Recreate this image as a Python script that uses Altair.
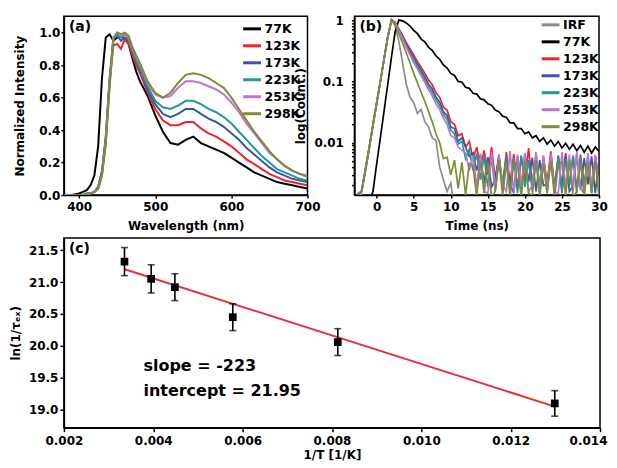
import altair as alt
import pandas as pd

FONT = "DejaVu Sans"

# ---------------- panel (a): emission spectra ----------------
wavelength = [380, 390, 400, 405, 410, 415, 420, 425, 430, 435, 440, 445, 450, 455, 460, 465, 470, 475,
              480, 490, 500, 510, 520, 530, 540, 550, 560, 570, 580, 590, 600, 610, 620, 630, 640, 650,
              660, 670, 680, 690, 700]
spec_77K = [0.00, 0.00, 0.01, 0.02, 0.03, 0.06, 0.12, 0.30, 0.72, 0.97, 0.99, 0.95, 0.97, 0.98, 0.96, 0.93,
            0.84, 0.76, 0.70, 0.61, 0.49, 0.39, 0.32, 0.31, 0.34, 0.36, 0.32, 0.30, 0.28, 0.26, 0.23, 0.20,
            0.17, 0.14, 0.12, 0.10, 0.08, 0.07, 0.06, 0.05, 0.04]
spec_123K = [0.00, 0.00, 0.00, 0.00, 0.01, 0.01, 0.02, 0.05, 0.15, 0.36, 0.70, 0.92, 0.93, 0.90, 0.96, 0.93,
             0.86, 0.80, 0.75, 0.63, 0.53, 0.46, 0.43, 0.43, 0.45, 0.45, 0.41, 0.38, 0.36, 0.33, 0.30, 0.26,
             0.22, 0.19, 0.16, 0.13, 0.11, 0.09, 0.08, 0.07, 0.06]
spec_173K = [0.00, 0.00, 0.00, 0.00, 0.01, 0.01, 0.02, 0.05, 0.14, 0.35, 0.72, 0.96, 0.98, 0.95, 0.97, 0.95,
             0.88, 0.82, 0.77, 0.65, 0.56, 0.50, 0.48, 0.50, 0.53, 0.53, 0.50, 0.47, 0.45, 0.42, 0.38, 0.34,
             0.29, 0.25, 0.21, 0.17, 0.14, 0.12, 0.10, 0.09, 0.08]
spec_223K = [0.00, 0.00, 0.00, 0.00, 0.01, 0.01, 0.02, 0.04, 0.13, 0.34, 0.70, 0.97, 0.99, 0.97, 0.99, 0.96,
             0.89, 0.83, 0.78, 0.67, 0.58, 0.54, 0.53, 0.55, 0.58, 0.58, 0.56, 0.53, 0.51, 0.48, 0.44, 0.39,
             0.34, 0.29, 0.24, 0.20, 0.16, 0.14, 0.12, 0.10, 0.09]
spec_253K = [0.00, 0.00, 0.00, 0.00, 0.00, 0.01, 0.02, 0.04, 0.12, 0.32, 0.68, 0.97, 1.00, 0.98, 0.99, 0.97,
             0.90, 0.85, 0.80, 0.69, 0.62, 0.60, 0.61, 0.66, 0.70, 0.70, 0.69, 0.67, 0.65, 0.62, 0.57, 0.51,
             0.44, 0.38, 0.32, 0.26, 0.22, 0.18, 0.15, 0.13, 0.12]
spec_298K = [0.00, 0.00, 0.00, 0.00, 0.00, 0.01, 0.02, 0.04, 0.12, 0.31, 0.66, 0.96, 1.00, 0.99, 1.00, 0.98,
             0.91, 0.86, 0.81, 0.70, 0.63, 0.60, 0.63, 0.69, 0.74, 0.75, 0.74, 0.72, 0.69, 0.66, 0.60, 0.53,
             0.46, 0.39, 0.33, 0.27, 0.22, 0.18, 0.15, 0.13, 0.11]
series_a = ["77K", "123K", "173K", "223K", "253K", "298K"]
colors_a = ["#000000", "#f02424", "#3a55a8", "#1f9a9a", "#c072d0", "#7d8c35"]

# ---------------- panel (b): decay curves ----------------
time_ns = [-3.0, -2.5, -2.0, -1.5, -1.0, -0.5, 0.0, 0.5, 1.0, 1.5, 2.0, 2.5, 3.0, 3.5, 4.0, 4.5, 5.0, 5.5,
           6.0, 6.5, 7.0, 7.5, 8.0, 8.5, 9.0, 9.5, 10.0, 10.5, 11.0, 11.5, 12.0, 12.5, 13.0, 13.5, 14.0,
           14.5, 15.0, 15.5, 16.0, 16.5, 17.0, 17.5, 18.0, 18.5, 19.0, 19.5, 20.0, 20.5, 21.0, 21.5, 22.0,
           22.5, 23.0, 23.5, 24.0, 24.5, 25.0, 25.5, 26.0, 26.5, 27.0, 27.5, 28.0, 28.5, 29.0, 29.5, 30.0]
decay_IRF = [0.0005, 0.0009, 0.0018, 0.0035, 0.008, 0.02, 0.045, 0.1, 0.24, 0.55, 1.0,
             0.8, 0.45, 0.2, 0.09, 0.055, 0.045, 0.03, 0.035, 0.022, 0.018, 0.012, 0.011, 0.004, 0.0025,
             0.0016, 0.0022, 0.0008]
decay_77K = [0.0003, 0.0004, 0.0006, 0.0008, 0.0011, 0.0016, 0.0045, 0.012, 0.033, 0.09, 0.25,
             0.65, 1.0, 0.97, 0.9, 0.8, 0.68, 0.6, 0.49, 0.44, 0.36, 0.32, 0.26, 0.23, 0.185, 0.165,
             0.135, 0.125, 0.1, 0.097, 0.08, 0.077, 0.064, 0.062, 0.052, 0.05, 0.043, 0.041, 0.034, 0.032,
             0.027, 0.026, 0.021, 0.021, 0.017, 0.017, 0.014, 0.015, 0.012, 0.013, 0.0105, 0.012, 0.0095,
             0.011, 0.0088, 0.0105, 0.0082, 0.0098, 0.0078, 0.0094, 0.0074, 0.009, 0.007, 0.0088, 0.0068,
             0.0085, 0.0072]
decay_123K = [0.0009, 0.0012, 0.0017, 0.0038, 0.0085, 0.019, 0.044, 0.1, 0.23, 0.52, 1.0,
              0.93, 0.72, 0.56, 0.43, 0.34, 0.27, 0.21, 0.17, 0.135, 0.105, 0.088, 0.065, 0.055, 0.038,
              0.034, 0.022, 0.02, 0.013, 0.014, 0.0085, 0.0105, 0.0055, 0.0085, 0.004, 0.0075, 0.003,
              0.0085, 0.0025, 0.006, 0.002, 0.007, 0.0022, 0.0065, 0.0018, 0.006, 0.0024, 0.0082, 0.002,
              0.0065, 0.0016, 0.006, 0.0022, 0.0072, 0.0019, 0.0062, 0.0015, 0.0068, 0.002, 0.006, 0.0017,
              0.0064, 0.0021, 0.0058, 0.0016, 0.0062, 0.002]
decay_173K = [0.0007, 0.0015, 0.0016, 0.0036, 0.0082, 0.019, 0.043, 0.1, 0.23, 0.53, 1.0,
              0.91, 0.7, 0.53, 0.4, 0.31, 0.24, 0.19, 0.15, 0.118, 0.09, 0.075, 0.055, 0.046, 0.032,
              0.028, 0.018, 0.017, 0.0105, 0.012, 0.0085, 0.006, 0.0068, 0.0035, 0.0062, 0.0022, 0.0058,
              0.0019, 0.0025, 0.0064, 0.0017, 0.0055, 0.0021, 0.0015, 0.006, 0.0018, 0.0066, 0.0023,
              0.0057, 0.0016, 0.0052, 0.002, 0.0021, 0.0063, 0.0015, 0.0058, 0.0019, 0.0062, 0.0016,
              0.002, 0.0065, 0.0017, 0.0056, 0.0021, 0.006, 0.0015, 0.0055]
decay_223K = [0.0012, 0.0008, 0.0017, 0.0037, 0.0084, 0.019, 0.044, 0.1, 0.23, 0.52, 1.0,
              0.9, 0.68, 0.51, 0.38, 0.29, 0.22, 0.175, 0.137, 0.107, 0.082, 0.066, 0.05, 0.04, 0.029,
              0.024, 0.016, 0.014, 0.0095, 0.0105, 0.0055, 0.0078, 0.0035, 0.0066, 0.0025, 0.006, 0.0019,
              0.0058, 0.0016, 0.0055, 0.0022, 0.006, 0.0017, 0.0056, 0.0015, 0.0062, 0.0019, 0.0052,
              0.0016, 0.006, 0.0021, 0.0056, 0.0015, 0.0063, 0.0018, 0.0058, 0.0016, 0.0054, 0.0021,
              0.0062, 0.0015, 0.0057, 0.0019, 0.006, 0.0015, 0.0058, 0.0018]
decay_253K = [0.0006, 0.0011, 0.0016, 0.0036, 0.0083, 0.019, 0.044, 0.1, 0.23, 0.52, 1.0,
              0.89, 0.66, 0.49, 0.36, 0.27, 0.2, 0.16, 0.123, 0.096, 0.073, 0.058, 0.043, 0.035, 0.025,
              0.02, 0.013, 0.012, 0.0085, 0.0075, 0.0068, 0.0035, 0.0062, 0.0019, 0.0066, 0.0016, 0.0015,
              0.007, 0.0018, 0.0062, 0.0021, 0.0016, 0.0073, 0.0015, 0.0064, 0.0019, 0.0068, 0.0016,
              0.002, 0.0071, 0.0015, 0.0062, 0.0018, 0.0066, 0.0016, 0.0015, 0.007, 0.0019, 0.0064,
              0.0016, 0.0072, 0.0018, 0.0015, 0.0068, 0.002, 0.0062, 0.0016]
decay_298K = [0.0008, 0.0014, 0.0017, 0.0038, 0.0086, 0.02, 0.045, 0.1, 0.23, 0.53, 1.0,
              0.86, 0.6, 0.42, 0.29, 0.2, 0.135, 0.095, 0.066, 0.047, 0.032, 0.022, 0.014, 0.01, 0.0055,
              0.0058, 0.003, 0.0052, 0.0018, 0.0048, 0.0014, 0.0046, 0.0042, 0.0013, 0.005, 0.0015,
              0.0048, 0.0013, 0.0016, 0.0052, 0.0014, 0.0047, 0.0013, 0.005, 0.0044, 0.0013, 0.0049,
              0.0015, 0.0014, 0.0051, 0.0013, 0.0046, 0.0015, 0.005, 0.0013, 0.0045, 0.0048, 0.0014,
              0.0051, 0.0013, 0.0016, 0.0049, 0.0013, 0.0047, 0.0015, 0.005, 0.0013]
series_b = ["IRF", "77K", "123K", "173K", "223K", "253K", "298K"]
colors_b = ["#8c8c8c", "#000000", "#f02424", "#3a55a8", "#1f9a9a", "#c072d0", "#7d8c35"]
log_ticks = [0.002, 0.003, 0.004, 0.005, 0.006, 0.007, 0.008, 0.009, 0.01, 0.02, 0.03, 0.04, 0.05,
             0.06, 0.07, 0.08, 0.09, 0.1, 0.2, 0.3, 0.4, 0.5, 0.6, 0.7, 0.8, 0.9, 1]

# ---------------- panel (c): Arrhenius-type plot ----------------
inv_T = [0.003356, 0.003953, 0.004484, 0.005780, 0.008130, 0.012987]
ln_rate = [21.32, 21.05, 20.92, 20.45, 20.06, 19.10]
ln_err = [0.22, 0.22, 0.21, 0.21, 0.21, 0.20]
fit_x = [0.00336, 0.01299]
fit_y = [21.20, 19.05]
note_text = ["slope = -223", "intercept = 21.95"]
note_x = [0.00378, 0.00378]
note_y = [19.68, 19.29]
panel_labels = ["(a)", "(b)", "(c)"]


def long_df(xs, names, lists, xname, yname):
    rows = []
    for name, vals in zip(names, lists):
        assert len(vals) <= len(xs), (name, len(vals))
        for x, v in zip(xs, vals):
            rows.append({xname: x, yname: v, "series": name})
    return pd.DataFrame(rows)


for lst in [spec_77K, spec_123K, spec_173K, spec_223K, spec_253K, spec_298K]:
    assert len(lst) == len(wavelength), len(lst)
for lst in [decay_77K, decay_123K, decay_173K, decay_223K, decay_253K, decay_298K]:
    assert len(lst) == len(time_ns), len(lst)

df_a = long_df(wavelength, series_a,
               [spec_77K, spec_123K, spec_173K, spec_223K, spec_253K, spec_298K], "wl", "I")
df_b = long_df(time_ns, series_b,
               [decay_IRF, decay_77K, decay_123K, decay_173K, decay_223K, decay_253K, decay_298K], "t", "c")
df_c = pd.DataFrame({"x": inv_T, "y": ln_rate, "e": ln_err})
df_fit = pd.DataFrame({"x": fit_x, "y": fit_y})
df_note = pd.DataFrame({"x": note_x, "y": note_y, "txt": note_text})


def legend(x, y):
    return alt.Legend(title=None, orient="none", legendX=x, legendY=y, symbolType="stroke",
                      symbolStrokeWidth=3, symbolSize=320, labelFont=FONT, labelFontWeight="bold",
                      labelFontSize=12.5, labelColor="black", rowPadding=0, padding=0, labelOffset=2)


def panel_label(txt):
    return alt.Chart(pd.DataFrame({"lab": [txt]})).mark_text(
        align="left", baseline="top", font=FONT, fontWeight="bold", fontSize=14, color="black"
    ).encode(x=alt.value(5), y=alt.value(4), text="lab:N")


# panel a
lines_a = alt.Chart(df_a).mark_line(strokeWidth=2, clip=True).encode(
    x=alt.X("wl:Q", scale=alt.Scale(domain=[380, 700], nice=False, zero=False),
            axis=alt.Axis(values=[400, 500, 600, 700], title="Wavelength (nm)", tickSize=3,
                          labelPadding=3, titlePadding=8, labelFlush=False)),
    y=alt.Y("I:Q", scale=alt.Scale(domain=[0, 1.1], nice=False),
            axis=alt.Axis(values=[0, 0.2, 0.4, 0.6, 0.8, 1.0], format=".1f", title="Normalized Intensity",
                          tickSize=3, labelPadding=1, titlePadding=12)),
    color=alt.Color("series:N", scale=alt.Scale(domain=series_a, range=colors_a), legend=legend(178, 2)),
)
panel_a = alt.layer(lines_a, panel_label(panel_labels[0])).properties(width=244, height=179)

# panel b
lines_b = alt.Chart(df_b).mark_line(clip=True, strokeWidth=1.7).encode(
    x=alt.X("t:Q", scale=alt.Scale(domain=[-3, 30], nice=False, zero=False),
            axis=alt.Axis(values=[0, 5, 10, 15, 20, 25, 30], title="Time (ns)", tickSize=3,
                          labelPadding=3, titlePadding=8, labelFlush=False)),
    y=alt.Y("c:Q", scale=alt.Scale(type="log", domain=[0.0014, 1.15], nice=False),
            axis=alt.Axis(values=log_ticks, title="log(Count.)", tickSize=3, labelPadding=8,
                          titlePadding=6,
                          labelExpr="datum.value == 1 ? '1' : (datum.value == 0.1 ? '0.1' : (datum.value == 0.01 ? '0.01' : ''))")),
    color=alt.Color("series:N", scale=alt.Scale(domain=series_b, range=colors_b), legend=legend(186, -2)),
)
panel_b = alt.layer(lines_b, panel_label(panel_labels[1])).properties(width=245, height=179)

# panel c
xc = alt.X("x:Q", scale=alt.Scale(domain=[0.002, 0.014], nice=False, zero=False),
           axis=alt.Axis(values=[0.002, 0.004, 0.006, 0.008, 0.010, 0.012, 0.014], format=".3f",
                         title="1/T [1/K]", tickSize=4, labelPadding=4, titlePadding=3, labelFlush=False,
                         labelOffset={"condition": {"test": "datum.value > 0.0139", "value": -12},
                                      "value": 0}))
yscale = alt.Scale(domain=[18.72, 21.69], nice=False, zero=False)
yaxis = alt.Axis(values=[19.0, 19.5, 20.0, 20.5, 21.0, 21.5], format=".1f", title="ln(1/τₑₓ)",
                 tickSize=4, labelPadding=2, titlePadding=6)
fit = alt.Chart(df_fit).mark_line(color="#e8303a", strokeWidth=2).encode(
    x=xc, y=alt.Y("y:Q", scale=yscale, axis=yaxis))
base_c = alt.Chart(df_c).transform_calculate(lo="datum.y - datum.e", hi="datum.y + datum.e")
bars = base_c.mark_rule(color="black", strokeWidth=1.6).encode(
    x=xc, y=alt.Y("lo:Q", scale=yscale, axis=yaxis), y2="hi:Q")
cap_lo = base_c.mark_tick(color="black", orient="horizontal", size=7, thickness=1.6).encode(
    x=xc, y=alt.Y("lo:Q", scale=yscale, axis=yaxis))
cap_hi = base_c.mark_tick(color="black", orient="horizontal", size=7, thickness=1.6).encode(
    x=xc, y=alt.Y("hi:Q", scale=yscale, axis=yaxis))
pts = base_c.mark_square(color="black", size=60, opacity=1).encode(
    x=xc, y=alt.Y("y:Q", scale=yscale, axis=yaxis))
notes = alt.Chart(df_note).mark_text(align="left", baseline="middle", font=FONT, fontWeight="bold",
                                     fontSize=16, color="black").encode(
    x=xc, y=alt.Y("y:Q", scale=yscale, axis=yaxis), text="txt:N")
panel_c = alt.layer(fit, bars, cap_lo, cap_hi, pts, notes, panel_label(panel_labels[2])).properties(
    width=537, height=190)

top = alt.hconcat(panel_a, panel_b, spacing=47, bounds="flush").resolve_scale(color="independent")
chart = alt.vconcat(top, panel_c, spacing=5).resolve_scale(color="independent").properties(
    padding={"left": 0, "top": 4, "right": 0, "bottom": 0}
).configure_view(stroke="black", strokeWidth=1.5).configure_axis(
    domainColor="black", domainWidth=1.5, tickColor="black", tickWidth=1.5, grid=False,
    labelFont=FONT, labelFontWeight="bold", labelFontSize=12, labelColor="black",
    titleFont=FONT, titleFontWeight="bold", titleFontSize=12, titleColor="black"
)

chart.save("out.html", embed_options={"renderer": "svg", "actions": False})
